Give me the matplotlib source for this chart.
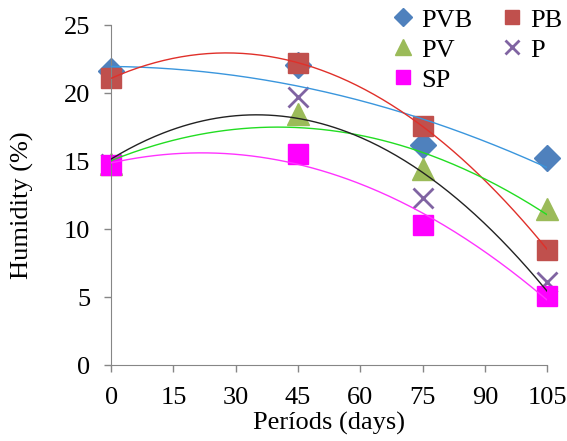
import numpy as np
import matplotlib.pyplot as plt

plt.rcParams['font.family'] = ['Liberation Serif', 'DejaVu Serif']

days = [0, 45, 75, 105]
pvb = [21.6, 22.1, 16.2, 15.2]
pb = [21.1, 22.2, 17.6, 8.5]
pv = [14.8, 18.5, 14.4, 11.5]
p = [14.8, 19.7, 12.3, 6.1]
sp = [14.7, 15.5, 10.3, 5.1]

series = [
    ("PVB", pvb, "D", "#4F81BD", "#3A96DD", 13),
    ("PB", pb, "s", "#C0504D", "#E0302A", 15),
    ("PV", pv, "^", "#9BBB59", "#22DD22", 16),
    ("P", p, "x", "#8064A2", "#222222", 14),
    ("SP", sp, "s", "#FF00FF", "#FF33FF", 15),
]

fig = plt.figure(figsize=(5.67, 4.41), dpi=100)
ax = fig.add_axes([0.196, 0.172, 0.769, 0.771])

xs = np.linspace(0, 105, 200)
handles = {}
for name, vals, marker, color, tcolor, ms in series:
    coef = np.polyfit(days, vals, 2)
    ax.plot(xs, np.polyval(coef, xs), color=tcolor, lw=1.0, zorder=3)
for name, vals, marker, color, tcolor, ms in series:
    if marker == "x":
        h, = ax.plot(days, vals, marker, color=color, ms=ms, mew=2, ls="none",
                     label=name, zorder=2, clip_on=False)
    else:
        h, = ax.plot(days, vals, marker, color=color, ms=ms, ls="none",
                     label=name, zorder=2, clip_on=False)
    handles[name] = h

ax.set_xlim(0, 105)
ax.set_ylim(0, 25)
ax.set_xticks(range(0, 106, 15))
ax.set_yticks(range(0, 26, 5))
ax.tick_params(labelsize=19, color="#868686", length=5, width=1)
ax.tick_params(axis="x", pad=11)
ax.tick_params(axis="y", pad=10)
for s in ["top", "right"]:
    ax.spines[s].set_visible(False)
for s in ["left", "bottom"]:
    ax.spines[s].set_color("#868686")
ax.set_xlabel("Períods (days)", fontsize=19, labelpad=2)
ax.set_ylabel("Humidity (%)", fontsize=19)
ax.yaxis.set_label_coords(-0.178, 0.47)

order = ["PVB", "PV", "SP", "PB", "P"]
ax.legend([handles[n] for n in order], order, ncol=2, loc="upper right",
          bbox_to_anchor=(1.09, 1.12), frameon=False, fontsize=19,
          handletextpad=0.1, columnspacing=0.9, labelspacing=0.25,
          handlelength=1.2, markerscale=0.7)

fig.savefig("out.png", dpi=100)
